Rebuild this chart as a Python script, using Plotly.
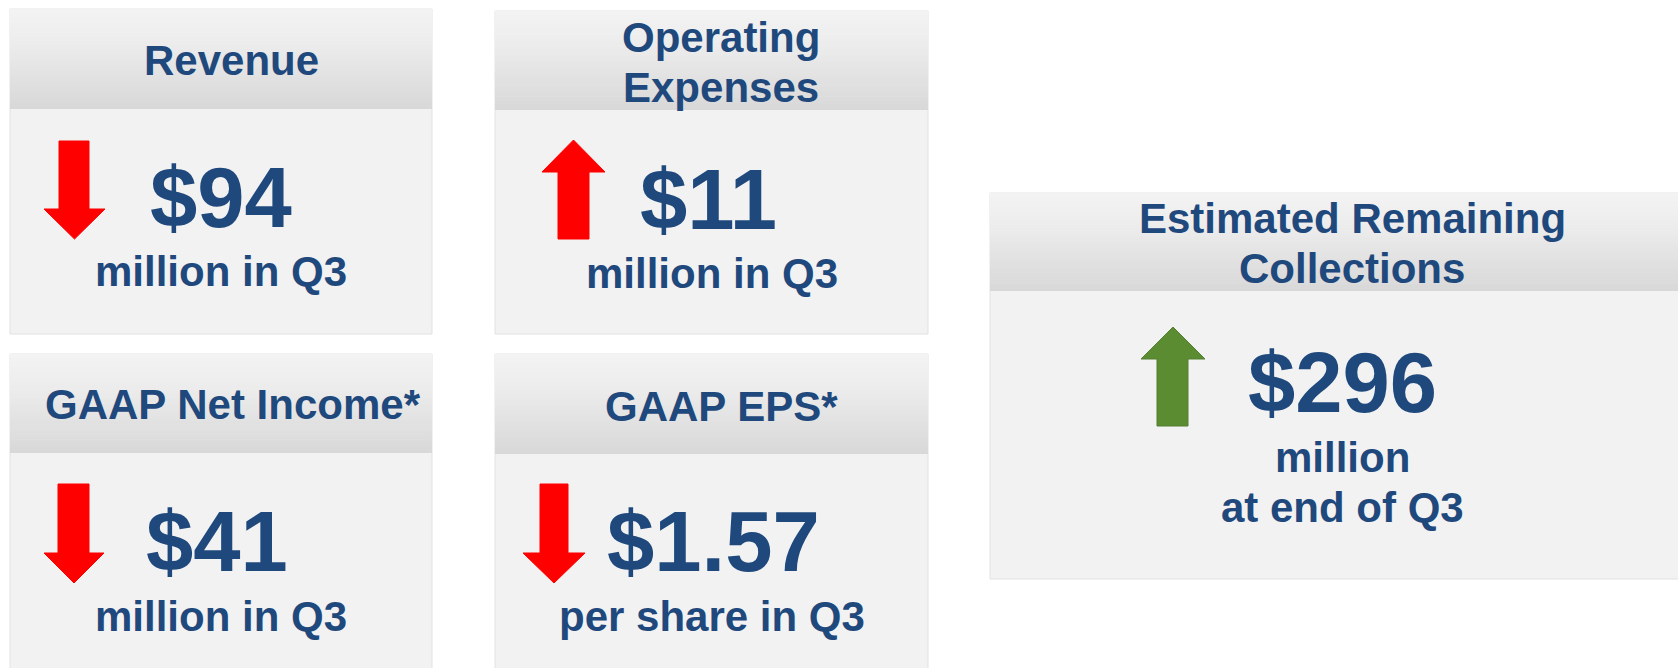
import plotly.graph_objects as go

# ---------------- data ----------------
titles = [["Revenue"], ["Operating", "Expenses"], ["GAAP Net Income*"], ["GAAP EPS*"],
          ["Estimated Remaining", "Collections"]]
values = ["$94", "$11", "$41", "$1.57", "$296"]
subtitles = [["million in Q3"], ["million in Q3"], ["million in Q3"], ["per share in Q3"],
             ["million", "at end of Q3"]]
directions = ["down", "up", "down", "down", "up"]
favorable = [False, False, False, False, True]

# ---------------- layout (positions / styles) ----------------
W, H = 1678, 668
# card: x0, y0, x1, y1, header bottom
cards = [
    (10, 9, 432, 334, 109),
    (495, 11, 928, 334, 110),
    (10, 354, 432, 690, 453),
    (495, 354, 928, 690, 454),
    (990, 193, 1690, 579, 291),
]
# title centre x, first baseline
title_pos = [(231, 75), (721, 52), (233, 419), (721, 421), (1352, 233)]
# value centre x, baseline
value_pos = [(221, 227), (708, 229), (217, 571), (713, 571), (1342, 412)]
# subtitle centre x, first baseline
sub_pos = [(221, 286), (712, 288), (221, 631), (712, 631), (1342, 472)]
# arrow: head x0, head x1, shaft x0, shaft x1, tip y, head-base y, tail y
arrows = [
    (44, 105, 59, 89, 239, 209, 141),
    (542, 605, 558, 589, 140, 172, 239),
    (44, 104, 58, 89, 583, 553, 484),
    (523, 585, 540, 568, 583, 553, 484),
    (1141, 1205, 1157, 1188, 327, 359, 426),
]
LINE_GAP = 50
TITLE_SIZE, VALUE_SIZE, SUB_SIZE = 42, 85, 42
TEXT_COLOR = "#1f497d"
BODY = "#f2f2f2"
BORDER = "#e2e2e2"
FONT = "Liberation Sans, Arial, sans-serif"


def lerp_col(c0, c1, t):
    return tuple(int(round(a + (b - a) * t)) for a, b in zip(c0, c1))


def header_color(t):
    # light at top, darker toward bottom
    top, mid, bot = (243, 243, 243), (236, 236, 236), (216, 216, 216)
    if t < 0.35:
        c = lerp_col(top, mid, t / 0.35)
    else:
        c = lerp_col(mid, bot, (t - 0.35) / 0.65)
    return "rgb(%d,%d,%d)" % c


shapes = []
annotations = []

for i, (x0, y0, x1, y1, hb) in enumerate(cards):
    # card body
    shapes.append(dict(type="rect", xref="x", yref="y", x0=x0, y0=y0, x1=x1, y1=y1,
                       fillcolor=BODY, line=dict(color=BORDER, width=1), layer="below"))
    # header gradient strips
    n = 50
    hh = (hb - y0) / n
    for k in range(n):
        shapes.append(dict(type="rect", xref="x", yref="y", x0=x0, x1=x1,
                           y0=y0 + k * hh, y1=min(hb, y0 + (k + 1) * hh + 0.6),
                           fillcolor=header_color(k / (n - 1)), line=dict(width=0),
                           layer="below"))

    # arrow
    hx0, hx1, sx0, sx1, tip, hbase, tail = arrows[i]
    cx = (hx0 + hx1) / 2
    path = (f"M {sx0} {tail} L {sx1} {tail} L {sx1} {hbase} L {hx1} {hbase} "
            f"L {cx} {tip} L {hx0} {hbase} L {sx0} {hbase} Z")
    if favorable[i]:
        fc, lc = "#5b8c32", "#557f30"
    else:
        fc, lc = "#ff0000", "#ff0000"
    shapes.append(dict(type="path", xref="x", yref="y", path=path, fillcolor=fc,
                       line=dict(color=lc, width=1)))

    # title lines
    tx, ty = title_pos[i]
    for j, line in enumerate(titles[i]):
        b = ty + j * LINE_GAP
        annotations.append(dict(x=tx, y=b - 0.35 * TITLE_SIZE, xref="x", yref="y",
                                text="<b>%s</b>" % line, showarrow=False,
                                xanchor="center", yanchor="middle",
                                font=dict(family=FONT, size=TITLE_SIZE, color=TEXT_COLOR)))
    # value
    vx, vy = value_pos[i]
    annotations.append(dict(x=vx, y=vy - 0.35 * VALUE_SIZE, xref="x", yref="y",
                            text="<b>%s</b>" % values[i], showarrow=False,
                            xanchor="center", yanchor="middle",
                            font=dict(family=FONT, size=VALUE_SIZE, color=TEXT_COLOR)))
    # subtitle lines
    ux, uy = sub_pos[i]
    for j, line in enumerate(subtitles[i]):
        b = uy + j * LINE_GAP
        annotations.append(dict(x=ux, y=b - 0.35 * SUB_SIZE, xref="x", yref="y",
                                text="<b>%s</b>" % line, showarrow=False,
                                xanchor="center", yanchor="middle",
                                font=dict(family=FONT, size=SUB_SIZE, color=TEXT_COLOR)))

fig = go.Figure()
fig.update_layout(
    width=W, height=H, margin=dict(l=0, r=0, t=0, b=0),
    paper_bgcolor="white", plot_bgcolor="white",
    xaxis=dict(range=[0, W], visible=False, fixedrange=True),
    yaxis=dict(range=[H, 0], visible=False, fixedrange=True),
    shapes=shapes, annotations=annotations, showlegend=False,
)
fig.write_html("out.html", config={"displayModeBar": False},
               post_script="document.body.style.margin='0';document.body.style.overflow='hidden';")
